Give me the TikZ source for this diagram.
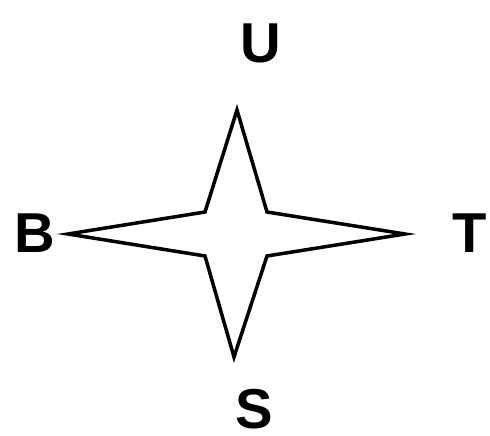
\documentclass[tikz,border=0pt]{standalone}
\usepackage{fontspec}
\setmainfont{Liberation Sans}
\begin{document}
\begin{tikzpicture}[x=.25mm,y=-.25mm,line join=miter]
\tikzset{dirlabel/.style={font=\fontsize{40}{48}\selectfont\bfseries,inner sep=0pt}}
\useasboundingbox (0,0) rectangle (490,436);
% star
\draw[line width=2.5pt] (237,110) -- (267,212) -- (405,234) -- (267,256) -- (234,357) -- (205,256) -- (68,234) -- (205,212) -- cycle;
% labels
\node[dirlabel] (up) at (261,43) {U};
\node[dirlabel] (back) at (35,233) {B};
\node[dirlabel] (top) at (470,233) {T};
\node[dirlabel] (side) at (254,409) {S};
\end{tikzpicture}
\end{document}
